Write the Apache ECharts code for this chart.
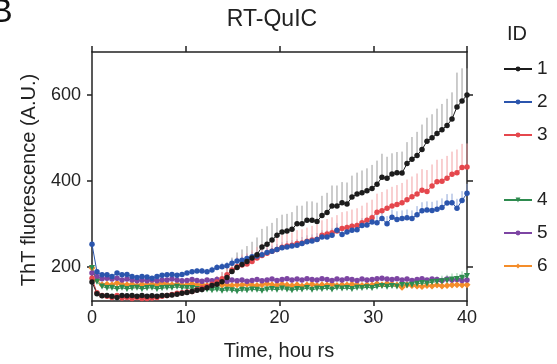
<!DOCTYPE html>
<html><head><meta charset="utf-8">
<script src="https://cdn.jsdelivr.net/npm/echarts@6/dist/echarts.min.js"></script>
<style>html,body{margin:0;padding:0;background:#fff}#c{width:557px;height:364px}</style>
</head><body><div id="c"></div>
<script>
// Time points (hours)
const hours = [0,0.53,1.07,1.6,2.13,2.67,3.2,3.73,4.27,4.8,5.33,5.87,6.4,6.93,7.47,8,8.53,9.07,9.6,10.13,
10.67,11.2,11.73,12.27,12.8,13.33,13.87,14.4,14.93,15.47,16,16.53,17.07,17.6,18.13,18.67,19.2,19.73,20.27,20.8,
21.33,21.87,22.4,22.93,23.47,24,24.53,25.07,25.6,26.13,26.67,27.2,27.73,28.27,28.8,29.33,29.87,30.4,30.93,31.47,
32,32.53,33.07,33.6,34.13,34.67,35.2,35.73,36.27,36.8,37.33,37.87,38.4,38.93,39.47,40];

const ids = ['1','2','3','4','5','6'];
const xTicks = [0,10,20,30,40];
const yTicks = [200,400,600];

// ThT fluorescence (A.U.) means
const id1 = [164,137,132,133,131,128,133,132,133,131,133,131,132,131,133,133,134,136,138,140,
142,145,147,151,156,159,165,175,189,198,205,212,220,228,246,252,262,273,281,283,
287,300,300,308,308,305,319,326,341,341,349,346,362,369,372,377,382,392,408,406,
416,419,418,440,450,459,473,492,500,510,519,529,544,572,586,600];
const id2 = [252,188,181,181,177,185,181,182,177,175,177,176,173,177,180,181,182,180,182,185,
188,190,190,188,192,198,200,202,208,213,215,219,223,225,228,233,236,240,244,246,
248,250,254,258,260,263,269,269,273,285,275,281,285,286,296,297,304,302,312,300,
315,310,312,314,312,321,330,332,331,334,338,348,349,336,354,371];
const id3 = [173,139,133,131,128,133,127,128,126,128,126,126,127,128,131,133,135,138,139,141,
142,146,150,154,159,164,172,181,192,200,204,206,212,220,226,231,236,240,245,248,
250,254,255,259,262,264,273,276,279,283,289,291,294,296,302,308,314,327,330,336,
341,345,349,356,363,369,378,375,388,398,399,406,415,419,431,432];
const id4 = [197,165,154,150,151,148,151,148,150,151,148,150,151,148,150,151,151,153,151,150,
150,148,146,147,145,147,144,146,145,143,146,145,147,146,144,147,148,146,149,147,
145,148,147,150,146,149,148,150,147,151,149,150,148,151,150,152,150,153,155,153,
155,154,157,156,158,160,162,161,164,165,166,168,170,171,174,178];
const id5 = [185,177,172,173,171,173,169,171,169,167,169,167,169,167,169,169,171,169,167,168,
170,168,166,169,167,170,168,166,169,167,169,166,168,170,167,169,171,168,170,172,
169,171,169,172,170,169,172,170,168,171,169,172,170,168,171,169,170,172,173,171,
170,172,169,171,168,170,172,169,171,170,168,171,169,170,168,169];
const id6 = [197,169,158,159,158,162,159,158,159,156,159,158,159,158,162,159,158,159,157,158,
160,157,159,156,158,160,157,158,156,158,157,159,157,156,158,160,158,157,159,157,
156,158,155,157,159,156,158,157,159,156,158,157,159,158,156,158,157,160,158,161,
159,157,152,158,156,155,154,156,155,157,155,156,157,158,157,158];

// Upper error bars
const err1 = [3,4,4,4,4,4,4,4,4,4, 4,4,5,5,5,5,6,6,8,10, 12,12,14,15,17,18,22,28,32,35,
35,36,38,40,42,42,40,40,40,40, 40,42,42,44,44,44,46,46,48,48, 48,50,50,50,52,52,55,55,55,50,
48,48,50,50,52,55,58,55,55,58, 60,62,62,80,76,62];
const err2 = [6,4,4,4,4,4,4,4,4,4, 4,4,4,4,4,4,4,4,5,5, 6,6,7,7,8,8,9,9,10,10,
10,11,11,12,12,12,13,13,13,14, 14,14,15,15,15,15,16,16,16,16, 16,17,17,17,17,18,18,18,18,18,
18,19,19,19,19,20,20,20,20,20, 21,21,21,22,22,22];
const err3 = [4,4,4,4,4,4,4,4,4,4, 4,4,4,4,4,5,5,5,6,6, 7,8,9,10,12,14,16,18,20,22,
24,25,26,26,27,27,28,28,29,30, 30,31,32,32,33,34,35,35,36,37, 38,38,39,40,40,41,42,43,44,44,
45,45,46,47,47,48,49,50,50,51, 52,52,53,54,55,55];
const err4 = [4,3,3,3,3,3,3,3,3,3, 3,3,3,3,3,3,3,3,3,3, 3,3,3,3,3,3,3,3,3,3,
4,4,4,4,4,4,4,4,4,4, 4,4,4,4,5,5,5,5,5,5, 5,5,6,6,6,6,6,7,7,7,
8,8,9,9,10,10,11,11,12,12, 13,13,14,14,15,15];
const err5 = [4,3,3,3,3,3,3,3,3,3, 3,3,3,3,3,3,3,3,3,3, 3,3,3,3,3,3,3,3,3,3,
3,3,3,3,3,3,3,3,3,3, 4,4,4,4,4,4,4,4,4,4, 4,4,4,4,4,4,4,4,4,4,
4,4,4,4,4,4,4,4,4,4, 4,4,4,4,4,4];
const err6 = [4,3,3,3,3,3,3,3,3,3, 3,3,3,3,3,3,3,3,3,3, 3,3,3,3,3,3,3,3,3,3,
3,3,3,3,3,3,3,3,3,3, 4,4,4,4,4,4,4,4,4,4, 4,4,4,4,4,4,4,4,4,4,
4,4,4,4,4,4,4,4,4,4, 4,4,4,4,4,4];

const means = [id1,id2,id3,id4,id5,id6];
const errs = [err1,err2,err3,err4,err5,err6];
const colors = ['#1c1c1c','#2b55ad','#e5474d','#2e8b4f','#7d45a3','#f48d2a'];
const errColors = ['#9a9a9a','#8fa6d8','#f2a0a3','#8fcaa2','#c0a2d4','#f8c594'];
const symbols = ['circle','circle','circle','triangle','circle','diamond'];
const symRot = [0,0,0,180,0,0];
const symSizes = [5.5,5.5,5.5,6,5.5,7];

const FONT = 'Liberation Sans, Arial, sans-serif';
const axisLine = {show:true, onZero:false, lineStyle:{color:'#222', width:1.5}};
const tickStyle = {color:'#222', width:1.5};

const series = [];
means.forEach((vals, k) => {
  series.push({
    type:'custom', silent:true, z:1, clip:false,
    data: hours.map((t,i)=>[t, vals[i], errs[k][i]]),
    encode:{x:0, y:1},
    renderItem: function(params, api){
      const t = api.value(0), v = api.value(1), e = api.value(2);
      const p0 = api.coord([t, v]), p1 = api.coord([t, v+e]);
      return {type:'line', shape:{x1:p0[0], y1:p0[1], x2:p1[0], y2:p1[1]},
              style:{stroke:errColors[k], lineWidth:1}};
    }
  });
});
for (let k = 5; k >= 0; k--) {
  series.push({
    name: ids[k], type:'line', z:3, clip:false,
    data: hours.map((t,i)=>[t, means[k][i]]),
    symbol: symbols[k], symbolRotate: symRot[k], symbolSize: symSizes[k], showSymbol:true,
    lineStyle:{color:colors[k], width:1},
    itemStyle:{color:colors[k], borderWidth:0},
    animation:false
  });
}

const legendCommon = {
  orient:'vertical', left:503, padding:0, itemWidth:28, itemHeight:6, itemGap:13,
  textStyle:{fontFamily:FONT, fontSize:19, color:'#222', lineHeight:20},
  selectedMode:false
};

const option = {
  animation:false,
  backgroundColor:'#fff',
  grid:{left:92, right:90, top:52, bottom:63},
  legend:[
    Object.assign({}, legendCommon, {top:59, data:ids.slice(0,3)}),
    Object.assign({}, legendCommon, {top:190, data:ids.slice(3)})
  ],
  xAxis:[
    {type:'value', min:xTicks[0], max:xTicks[xTicks.length-1], interval:10, position:'bottom',
     axisLine:axisLine, axisTick:{show:true, length:5, lineStyle:tickStyle},
     axisLabel:{margin:8, fontSize:18, color:'#222', fontFamily:FONT}, splitLine:{show:false}},
    {type:'value', min:xTicks[0], max:xTicks[xTicks.length-1], interval:10, position:'top',
     axisLine:axisLine, axisTick:{show:true, length:6, lineStyle:tickStyle},
     axisLabel:{show:false}, splitLine:{show:false}}
  ],
  yAxis:[
    {type:'value', min:120, max:700, position:'left',
     axisLine:axisLine, axisTick:{show:true, length:5, lineStyle:tickStyle, customValues:yTicks},
     axisLabel:{margin:11, fontSize:18, color:'#222', fontFamily:FONT, customValues:yTicks},
     splitLine:{show:false}},
    {type:'value', min:120, max:700, position:'right',
     axisLine:axisLine, axisTick:{show:true, length:6, lineStyle:tickStyle, customValues:yTicks},
     axisLabel:{show:false}, splitLine:{show:false}}
  ],
  graphic:[
    {type:'text', left:-10, top:-4, style:{text:'B', fontSize:34, fontFamily:FONT, fill:'#111'}},
    {type:'text', x:272, y:20, style:{text:'RT-QuIC', fontSize:23, fontFamily:FONT, fill:'#222', align:'center', verticalAlign:'middle'}},
    {type:'text', x:517, y:34, style:{text:'ID', fontSize:20, fontFamily:FONT, fill:'#222', align:'center', verticalAlign:'middle'}},
    {type:'text', x:279, y:351, style:{text:'Time, hou rs', fontSize:20, fontFamily:FONT, fill:'#222', align:'center', verticalAlign:'middle'}},
    {type:'text', x:29, y:180, rotation:Math.PI/2, style:{text:'ThT fluorescence (A.U.)', fontSize:20, fontFamily:FONT, fill:'#222', align:'center', verticalAlign:'middle'}}
  ],
  series: series
};

const chart = echarts.init(document.getElementById('c'), null, {renderer:'canvas'});
chart.setOption(option);
</script>
</body></html>
